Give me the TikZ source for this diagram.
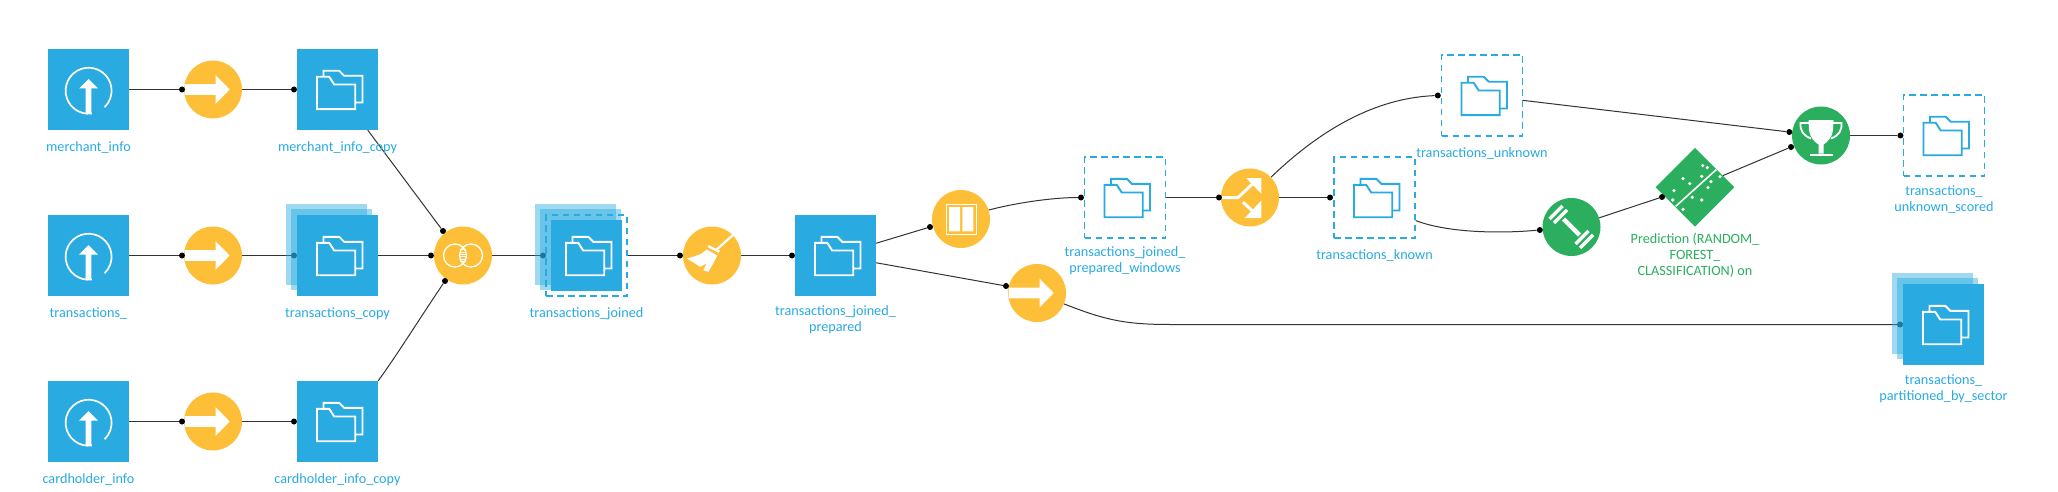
\documentclass[tikz,border=0pt]{standalone}
\usepackage{fontspec}
\setmainfont{Carlito}
\usetikzlibrary{positioning,shapes.geometric,backgrounds}
\definecolor{dsblue}{HTML}{29ABE2}
\definecolor{recipe}{HTML}{FDBE38}
\definecolor{model}{HTML}{2BAF5E}
\definecolor{wire}{HTML}{333333}
\newcommand{\BoxS}{81}
\newcommand{\DiscS}{58}
\pgfdeclarelayer{front}
\pgfsetlayers{background,main,front}
\tikzset{
  pics/folderico/.style={code={
    \draw[#1, line width=1.9pt, line join=miter]
      (-20.5,-12.7) -- (-8.3,-12.7) -- (-3.3,-5) -- (17.7,-5) -- (17.7,19.7) -- (-20.5,19.7) -- cycle;
    \draw[#1, line width=1.9pt]
      (-14,-12.7) -- (-14,-18.7) -- (1.7,-18.7) -- (6.7,-13.7) -- (25,-13.7) -- (25,13) -- (17.7,13);
  }},
  uploadico/.pic={
    \draw[white, line width=1.7pt] (3.3,24) arc[start angle=82, end angle=406, radius=23];
    \fill[white] (0,-10.5) -- (9.5,-1) -- (2.8,-1) -- (2.8,24) -- (-2.8,24) -- (-2.8,-1) -- (-9.5,-1) -- cycle;
  },
  arrowico/.pic={
    \fill[white] (-28.5,-5.3) -- (2.7,-5.3) -- (2.7,-14.3) -- (16.7,0) -- (2.7,14.3) -- (2.7,5.3) -- (-28.5,5.3) -- cycle;
  },
  joinico/.pic={
    \draw[white, line width=1.3pt] (-8,0) circle[radius=11.5] (8,0) circle[radius=11.5];
    \foreach \h in {-6,-3.6,...,6.1} { \draw[white, line width=.8pt] (-3,\h) -- (3,\h); }
  },
  broomico/.pic={
    \draw[white, line width=2.2pt] (20.7,-20.3) -- (4.7,-6);
    \draw[white, line width=2.4pt] (-3.7,-9.3) -- (7.3,-3.7);
    \fill[white] (-5.3,-6) -- (5.3,0) -- (1.3,8) -- (-3.7,16.3) -- (-8.7,14.7) -- (-5.3,8) -- (-12,11.3)
      -- (-17,8) -- (-25.3,3) -- (-17,.7) -- (-10.3,-2) -- cycle;
  },
  windowico/.pic={
    \draw[white, line width=1pt] (-15,-15) rectangle (15,15);
    \fill[white] (-12,-12) rectangle (-1,12.3) (1.3,-12) rectangle (12.3,12.3);
  },
  splitico/.pic={
    \draw[white, line width=3pt] (-28,0) -- (-12,0) -- (3,-14);
    \fill[white] (-3.7,-19.3) -- (11.3,-19.3) -- (11.3,-3.7) -- cycle;
    \draw[white, line width=3pt] (-7,4.7) -- (4,15);
    \fill[white] (11.3,3) -- (11.3,20.7) -- (-5.3,20.7) -- cycle;
  },
  dumbbellico/.pic={
    \draw[white, line width=4.5pt] (-8,-8) -- (8,8);
    \foreach \ax/\ay/\bx/\by in {-22/-8/-9/-21,-17.5/-4/-4.5/-17,4/17/17/4,8.5/21/21.5/8} {
      \draw[white, line width=3.4pt] (\ax,\ay) -- (\bx,\by);
    }
  },
  trophyico/.pic={
    \fill[white] (-12.5,-15.3) -- (12.5,-15.3) -- (12,-5) .. controls (11,2) and (6,7) .. (2.5,9)
      -- (2.5,18) -- (-2.5,18) -- (-2.5,9) .. controls (-6,7) and (-11,2) .. (-12,-5) -- cycle;
    \fill[white] (-11.5,18) rectangle (11.5,20.7);
    \draw[white, line width=1.8pt] (-12,-12.5) -- (-20.5,-12.5) .. controls (-21,-5) and (-18,0) .. (-10,3);
    \draw[white, line width=1.8pt] (12,-12.5) -- (20.5,-12.5) .. controls (21,-5) and (18,0) .. (10,3);
  },
  forestico/.pic={
    \draw[white, line width=1.6pt] (-19.3,19) -- (21.3,-17.7);
    \foreach \px/\py in {7.7/-21.7,12.3/-19.7,6.7/-11,-12/-8.7,-5.3/-3.7,-21/3.3,-22.3/12.7,25/-10.7,16/-5.7,13/.3,-2.7/10,6.7/12.7,-12/22} {
      \fill[white] (\px,\py) circle[radius=1.8];
    }
  },
}
\begin{document}
\begin{tikzpicture}[x=1pt, y=-1pt,
    dsbox/.style={fill=dsblue, minimum size=\BoxS pt, inner sep=0pt},
    dashbox/.style={draw=dsblue, dash pattern=on 6.5pt off 4.5pt, line width=1.2pt, minimum size=\BoxS pt, inner sep=0pt},
    stackbox/.style={fill=dsblue, fill opacity=.45, minimum size=\BoxS pt, inner sep=0pt},
    disc/.style={circle, fill=#1, minimum size=\DiscS pt, inner sep=0pt},
    portdot/.style={circle, fill=black, minimum size=6pt, inner sep=0pt},
    lbl/.style={text=#1, align=center, inner sep=0pt, font=\fontsize{14.2}{16}\selectfont},
    lbl/.default=dsblue,
    wireline/.style={draw=wire, line width=1pt},
  ]
\useasboundingbox (0,0) rectangle (2058,492);

% --- Recipes: a disc and its icon ---------------------------------------------
\foreach \name/\x/\y/\col/\ico in {
  syncm/213/89.5/recipe/arrowico, synct/213/255.5/recipe/arrowico, syncc/213/421.5/recipe/arrowico,
  joinr/463/255.5/recipe/joinico, prepr/712/255.5/recipe/broomico, windowr/961/219/recipe/windowico,
  syncp/1037/293/recipe/arrowico, splitr/1250/197.5/recipe/splitico,
  trainr/1571.5/227/model/dumbbellico, scorer/1821/135.5/model/trophyico}
{
  \node[disc=\col] (\name) at (\x,\y) {};
  \pic at (\name) {\ico};
}
\node[diamond, fill=model, minimum width=79pt, minimum height=79pt, inner sep=0pt] (forest) at (1695,187.3) {};
\pic at (forest) {forestico};

% --- Datasets: plain, uploaded, stacked (partitioned), dashed -------------------
\begin{pgfonlayer}{front}
\foreach \name/\x/\y/\ico in {
  merchant/88.5/89.5/uploadico, trans/88.5/255.5/uploadico, card/88.5/421.5/uploadico}
{
  \node[dsbox] (\name) at (\x,\y) {};
  \pic at (\name) {\ico};
}
\foreach \name/\x/\y in {transcopy/337.5/255.5, joined/586.5/255.5, partitioned/1943.5/324.5} {
  \node[stackbox] (\name-a) at (\x-11,\y-11) {};
  \node[stackbox] (\name-b) at (\x-6,\y-6) {};
}
\foreach \name/\x/\y in {merchantcopy/337.5/89.5, transcopy/337.5/255.5, cardcopy/337.5/421.5, prepared/835.5/255.5, partitioned/1943.5/324.5} {
  \node[dsbox] (\name) at (\x,\y) {};
  \pic at (\name) {folderico=white};
}
\node[dashbox] (joined) at (586.5,255.5) {};
\node[fill=dsblue, minimum size=71pt, inner sep=0pt] (joinedfill) at (joined) {};
\pic at (joined) {folderico=white};
\foreach \name/\x/\y in {windows/1125/197.5, known/1374.5/197.5, unknown/1482/95.5, scored/1944/135.5} {
  \node[dashbox] (\name) at (\x,\y) {};
  \pic at (\name) {folderico=dsblue};
}
\end{pgfonlayer}

% --- Labels --------------------------------------------------------------------
\foreach \name/\x/\y/\txt in {
  merchant/88.5/147.5/{merchant\_info}, trans/88.5/313.5/{transactions\_}, card/88.5/479.5/{cardholder\_info},
  merchantcopy/337.5/147.5/{merchant\_info\_copy}, transcopy/337.5/313.5/{transactions\_copy}, cardcopy/337.5/479.5/{cardholder\_info\_copy},
  joined/586.5/313.5/{transactions\_joined}, prepared/835.5/319.5/{transactions\_joined\_\\prepared},
  windows/1125/261/{transactions\_joined\_\\prepared\_windows}, known/1374.5/255.5/{transactions\_known},
  unknown/1482/153.5/{transactions\_unknown}, scored/1944/199.5/{transactions\_\\unknown\_scored},
  partitioned/1943.5/388.5/{transactions\_\\partitioned\_by\_sector}}
{
  \node[lbl] (\name-l) at (\x,\y) {\txt};
}
\node[lbl=model] (forest-l) at (1695,255.5) {Prediction (RANDOM\_\\FOREST\_\\CLASSIFICATION) on};

% --- Ports ---------------------------------------------------------------------
\foreach \name/\x/\y in {
  syncm-in/182/89.5, synct-in/182/255.5, syncc-in/182/421.5,
  merchantcopy-in/294/89.5, transcopy-in/294/255.5, cardcopy-in/294/421.5,
  joinr-a/443/231, joinr-b/431/255.5, joinr-c/445/281,
  joined-in/543/255.5, prepr-in/680/255.5, prepared-in/792/255.5,
  windowr-in/930/227, syncp-in/1006/286, windows-in/1081/197.5,
  splitr-in/1219/197.5, known-in/1330/197.5, unknown-in/1437.8/95.5,
  trainr-in/1539.8/230, forest-in/1662/197, scorer-a/1789.3/132, scorer-b/1791/147,
  scored-in/1900.4/135.5, partitioned-in/1900/324.5}
{
  \node[portdot] (\name) at (\x,\y) {};
}

% --- Connectors (behind everything) --------------------------------------------
\begin{scope}[on background layer]
\fill[white] (0,0) rectangle (2058,492);
\foreach \a/\b in {
  merchant/syncm-in, trans/synct-in, card/syncc-in,
  syncm/merchantcopy-in, synct/transcopy-in, syncc/cardcopy-in,
  merchantcopy/joinr-a, transcopy/joinr-b, joinr/joined-in, joined/prepr-in, prepr/prepared-in,
  prepared/windowr-in, prepared/syncp-in, windows/splitr-in, splitr/known-in,
  unknown/scorer-a, trainr/forest-in, forest/scorer-b, scorer/scored-in}
{
  \draw[wireline] (\a) -- (\b);
}
\draw[wireline] (cardcopy.north east) .. controls (395,358) and (420,318) .. (joinr-c);
\draw[wireline] (windowr.18) .. controls (1020,202) and (1055,197.5) .. (windows-in);
\draw[wireline] (splitr.44) .. controls (1320,130) and (1375,98) .. (unknown-in);
\draw[wireline] ([yshift=-23pt]known.east) .. controls (1445,232) and (1495,234) .. (trainr-in);
\draw[wireline] (syncp.-22) .. controls (1105,320) and (1125,324.5) .. (1170,324.5) -- (partitioned-in);
\end{scope}
\end{tikzpicture}
\end{document}
